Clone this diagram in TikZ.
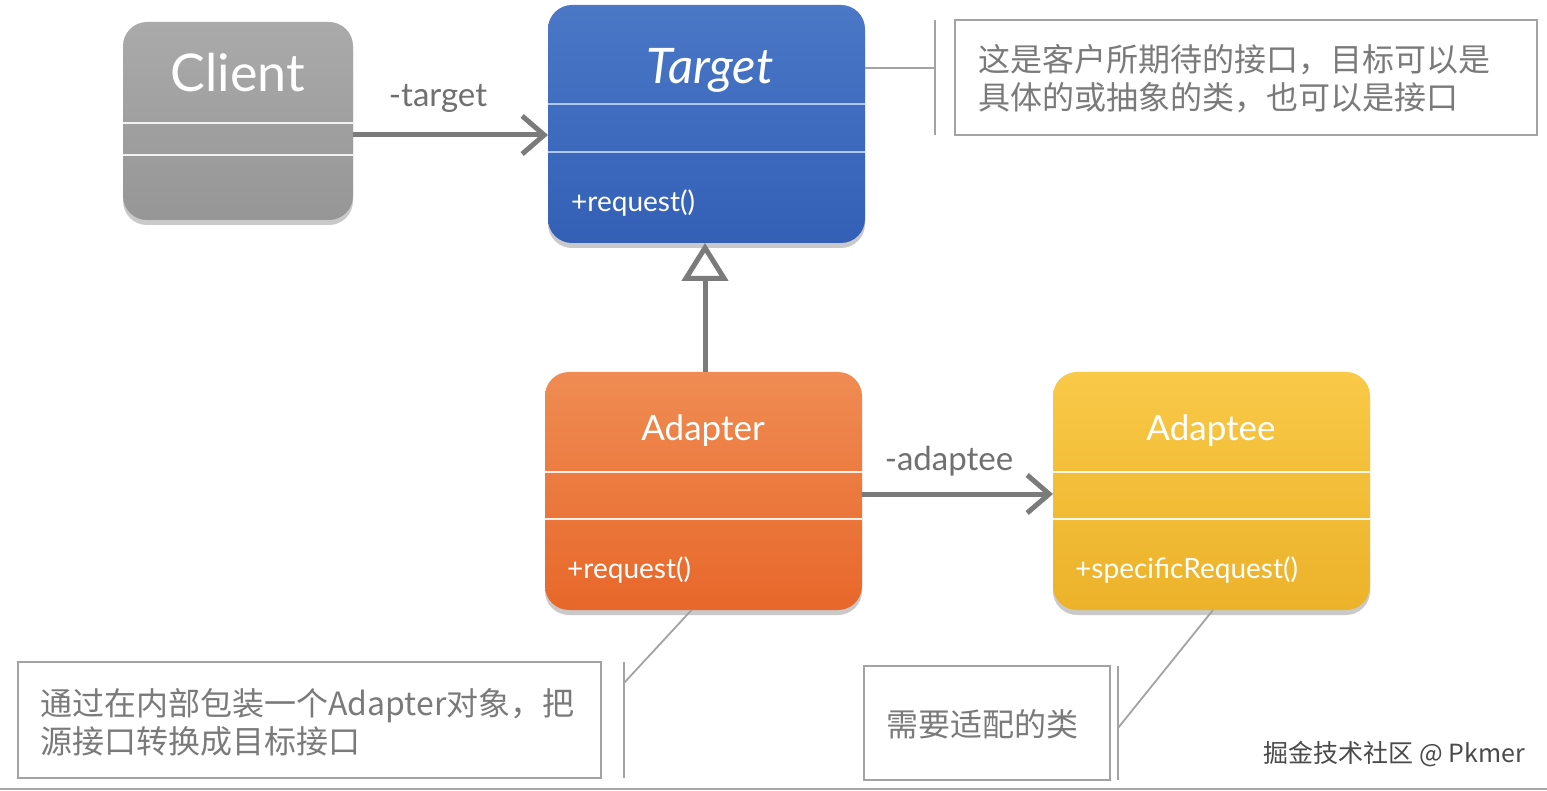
\documentclass[tikz,border=0pt]{standalone}
\usepackage{fontspec}
\setmainfont{Lato}
\newfontfamily\cjk{Noto Sans CJK SC}
\usetikzlibrary{arrows.meta,shadows}
\definecolor{clienttop}{HTML}{AAAAAA}
\definecolor{clientbot}{HTML}{969696}
\definecolor{targettop}{HTML}{4B77C7}
\definecolor{targetbot}{HTML}{3360B6}
\definecolor{targetsep}{HTML}{AFC8EE}
\definecolor{adaptertop}{HTML}{EF8C53}
\definecolor{adapterbot}{HTML}{E8672A}
\definecolor{adapteetop}{HTML}{F9C947}
\definecolor{adapteebot}{HTML}{ECB22A}
\definecolor{arrowgray}{HTML}{7B7B7B}
\definecolor{labelgray}{HTML}{707070}
\definecolor{notegray}{HTML}{A3A3A3}
\definecolor{notetextc}{HTML}{7A7A7A}
\definecolor{markgray}{HTML}{4A4A4A}
\begin{document}
\begin{tikzpicture}[x=1pt,y=-1pt,
  umlbox/.style={rounded corners=24pt, inner sep=0pt, outer sep=0pt,
    drop shadow={shadow xshift=0pt, shadow yshift=-5pt, opacity=0.38, fill=black!55}},
  sepline/.style={line width=1.6pt},
  title/.style={text=white, anchor=base, inner sep=0pt, font=\fontsize{35}{40}\selectfont},
  member/.style={text=white, anchor=base west, inner sep=0pt, font=\fontsize{28}{32}\selectfont},
  rolelabel/.style={text=labelgray, anchor=base, inner sep=0pt, font=\fontsize{33}{38}\selectfont},
  assoc/.style={draw=arrowgray, line width=5pt, -{Straight Barb[length=22pt,width=38pt]}},
  realize/.style={draw=arrowgray, line width=5pt, -{Triangle[open,length=38pt,width=46pt,fill=white]}},
  notebox/.style={draw=notegray, line width=2pt, inner sep=0pt, outer sep=0pt, fill=white},
  notetext/.style={text=notetextc, anchor=west, align=left, inner sep=0pt, font=\cjk\fontsize{32}{38}\selectfont},
  noteline/.style={draw=notegray, line width=1.8pt},
]
\useasboundingbox[fill=white] (0,0) rectangle (1547,791);

% ---------- class boxes ----------
\node[umlbox, top color=clienttop, bottom color=clientbot, minimum width=230pt, minimum height=198pt] (client) at (238,121) {};
\node[umlbox, top color=targettop, bottom color=targetbot, minimum width=317pt, minimum height=238pt] (target) at (706.5,124) {};
\node[umlbox, top color=adaptertop, bottom color=adapterbot, minimum width=317pt, minimum height=238pt] (adapter) at (703.5,491) {};
\node[umlbox, top color=adapteetop, bottom color=adapteebot, minimum width=317pt, minimum height=238pt] (adaptee) at (1211.5,491) {};

% separators
\draw[sepline, draw=white!90!gray] (client.west |- 0,123) -- (client.east |- 0,123);
\draw[sepline, draw=white!90!gray] (client.west |- 0,155) -- (client.east |- 0,155);
\draw[sepline, draw=targetsep] (target.west |- 0,104) -- (target.east |- 0,104);
\draw[sepline, draw=targetsep] (target.west |- 0,152) -- (target.east |- 0,152);
\draw[sepline, draw=white!85!adaptertop] (adapter.west |- 0,472) -- (adapter.east |- 0,472);
\draw[sepline, draw=white!85!adaptertop] (adapter.west |- 0,519) -- (adapter.east |- 0,519);
\draw[sepline, draw=white!85!adapteetop] (adaptee.west |- 0,472) -- (adaptee.east |- 0,472);
\draw[sepline, draw=white!85!adapteetop] (adaptee.west |- 0,519) -- (adaptee.east |- 0,519);

% titles and members
\node[title, font=\fontsize{52}{56}\selectfont] (clientname) at (238,92) {Client};
\node[title, font=\itshape\fontsize{49}{54}\selectfont] (targetname) at (710,84) {Target};
\node[title] (adaptername) at (703,440) {Adapter};
\node[title] (adapteename) at (1211,440) {Adaptee};
\node[member] (targetop) at (571,212) {+request()};
\node[member] (adapterop) at (567,578) {+request()};
\node[member] (adapteeop) at (1075,578) {+specificRequest()};

% ---------- connectors ----------
\draw[assoc] ([yshift=-14pt]client.east) -- ([yshift=-11pt]target.west);
\node[rolelabel] (targetrole) at (438,107) {-target};
\draw[realize] (adapter.north -| 705,0) -- (target.south -| 705,0);
\draw[assoc] ([yshift=-3pt]adapter.east) -- ([yshift=-3pt]adaptee.west);
\node[rolelabel] (adapteerole) at (949,470) {-adaptee};

% ---------- notes ----------
\node[notebox, minimum width=582pt, minimum height=115pt] (note1) at (1246,77.5) {};
\node[notetext] (note1text) at (978,79) {这是客户所期待的接口，目标可以是\\具体的或抽象的类，也可以是接口};
\coordinate (n1join) at (935,68);
\draw[noteline] ([yshift=56pt]target.east) -- (n1join);
\draw[noteline] (935,20) -- (935,135);

\node[notebox, minimum width=583pt, minimum height=116pt] (note2) at (309.5,720) {};
\node[notetext] (note2text) at (40,722) {通过在内部包装一个Adapter对象，把\\源接口转换成目标接口};
\coordinate (n2join) at (624,683);
\draw[noteline] ([xshift=-12pt]adapter.south) -- (n2join);
\draw[noteline] (624,662) -- (624,778);

\node[notebox, minimum width=246pt, minimum height=114pt] (note3) at (987,723) {};
\node[notetext] (note3text) at (886,724) {需要适配的类};
\coordinate (n3join) at (1118,728);
\draw[noteline] ([xshift=1.5pt]adaptee.south) -- (n3join);
\draw[noteline] (1118,666) -- (1118,780);

% watermark
\node[text=markgray, anchor=east, inner sep=0pt, font=\cjk\fontsize{25}{30}\selectfont] (mark) at (1525,754) {掘金技术社区 @ Pkmer};

% bottom edge line
\draw[draw=gray!70, line width=2pt] (0,789) -- (1547,789);
\end{tikzpicture}
\end{document}
